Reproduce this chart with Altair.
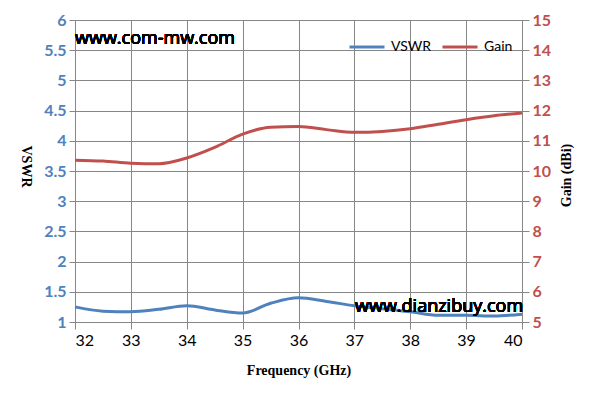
import altair as alt
import pandas as pd

freq = [32, 32.5, 33, 33.5, 34, 34.5, 35, 35.5, 36, 36.5, 37, 37.5, 38, 38.5, 39, 39.5, 40]
vswr = [1.25, 1.18, 1.17, 1.21, 1.27, 1.20, 1.15, 1.31, 1.40, 1.34, 1.27, 1.22, 1.17, 1.11, 1.11, 1.10, 1.13]
gain = [10.36, 10.33, 10.26, 10.24, 10.43, 10.78, 11.22, 11.45, 11.47, 11.37, 11.28, 11.31, 11.40, 11.55, 11.70, 11.83, 11.92]
series = ["VSWR", "Gain"]
colors = ["#4F81BD", "#C0504D"]
x_ticks = [32, 33, 34, 35, 36, 37, 38, 39, 40]
vswr_ticks = [1, 1.5, 2, 2.5, 3, 3.5, 4, 4.5, 5, 5.5, 6]
gain_ticks = [5, 6, 7, 8, 9, 10, 11, 12, 13, 14, 15]

df = pd.DataFrame({"Frequency": freq, "VSWR": vswr, "Gain": gain})

W, H = 447, 302
GRID = "#868686"
LABEL_FONT = "Lato"
TEXT_FONT = "Open Sans"
TITLE_FONT = "Liberation Serif"

xenc = alt.X(
    "Frequency:Q",
    scale=alt.Scale(domain=[32, 40], nice=False, zero=False),
    axis=alt.Axis(
        values=x_ticks, labelExpr="datum.value", title="Frequency (GHz)",
        titleFont=TITLE_FONT, titleFontSize=14, titleFontWeight="bold", titleColor="#000",
        titleX=W / 2, titleY=48, titleBaseline="middle",
        labelFont=LABEL_FONT, labelFontSize=16, labelColor="#000", labelPadding=3,
        tickSize=7, tickColor=GRID, domainColor=GRID, gridColor=GRID, grid=True,
    ),
)

color = alt.Color(
    "s:N",
    scale=alt.Scale(domain=series, range=colors),
    legend=alt.Legend(
        orient="none", legendX=273, legendY=8, direction="horizontal", title=None,
        symbolType="stroke", symbolStrokeWidth=3, symbolSize=1225,
        labelFont=LABEL_FONT, labelFontSize=14, labelColor="#000",
        labelOffset=5, columnPadding=4,
    ),
)

vswr_line = alt.Chart(df).transform_calculate(s="'VSWR'").mark_line(
    strokeWidth=3, interpolate="monotone"
).encode(
    x=xenc,
    y=alt.Y(
        "VSWR:Q",
        scale=alt.Scale(domain=[1, 6], nice=False, zero=False),
        axis=alt.Axis(
            values=vswr_ticks, labelExpr="datum.value", title="VSWR", orient="left",
            titleFont=TITLE_FONT, titleFontSize=14, titleFontWeight="bold", titleColor="#000",
            titleAngle=90, titleX=-50, titleY=146, titleAlign="center", titleBaseline="middle",
            labelFont=LABEL_FONT, labelFontSize=16, labelFontWeight="bold", labelColor="#4F81BD",
            labelPadding=3, tickSize=6, tickColor=GRID, domainColor=GRID, gridColor=GRID, grid=True,
        ),
    ),
    color=color,
)

gain_line = alt.Chart(df).transform_calculate(s="'Gain'").mark_line(
    strokeWidth=3, interpolate="monotone"
).encode(
    x=xenc,
    y=alt.Y(
        "Gain:Q",
        scale=alt.Scale(domain=[5, 15], nice=False, zero=False),
        axis=alt.Axis(
            values=gain_ticks, labelExpr="datum.value", title="Gain (dBi)", orient="right",
            titleFont=TITLE_FONT, titleFontSize=14, titleFontWeight="bold", titleColor="#000",
            titleAngle=270, titleX=44, titleY=155, titleAlign="center", titleBaseline="middle",
            labelFont=LABEL_FONT, labelFontSize=16, labelFontWeight="bold", labelColor="#C0504D",
            labelPadding=3, tickSize=7, tickColor=GRID, domainColor=GRID, grid=False,
        ),
    ),
    color=color,
)

wm1 = alt.Chart(df).mark_text(
    text="www.com-mw.com", font=TEXT_FONT, fontSize=18, fontWeight="normal", color="#000",
    align="left", baseline="middle"
).encode(x=alt.value(0), y=alt.value(19))
wm2 = alt.Chart(df).mark_text(
    text="www.dianzibuy.com", font=TEXT_FONT, fontSize=18, fontWeight="normal", color="#000",
    align="left", baseline="middle"
).encode(x=alt.value(280), y=alt.value(287))

chart = alt.layer(vswr_line, gain_line, wm1, wm2).resolve_scale(y="independent").properties(
    width=W, height=H,
    autosize=alt.AutoSizeParams(type="none"),
    padding={"left": 67, "top": 12, "right": 63, "bottom": 72},
    background="white",
).configure_view(stroke=None)

chart.save("out.html", embed_options={"renderer": "svg", "actions": False})
